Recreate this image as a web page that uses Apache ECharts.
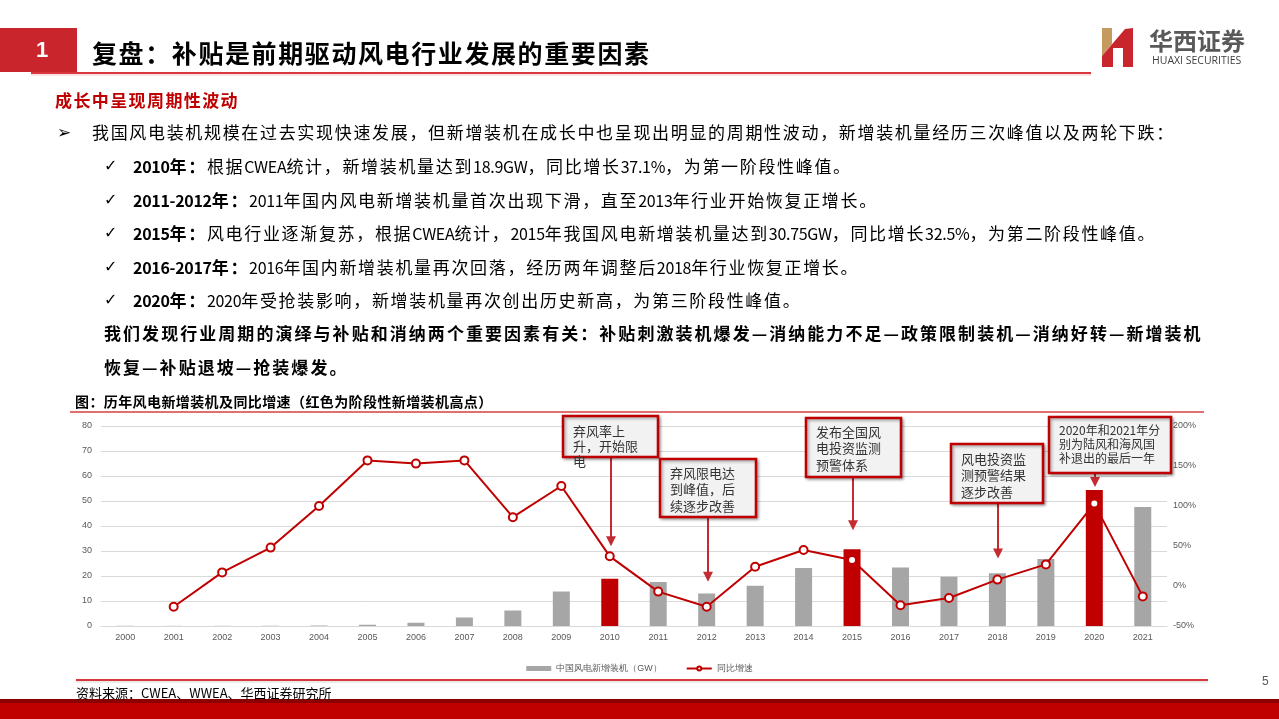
<!DOCTYPE html>
<html><head><meta charset="utf-8">
<script src="https://cdn.jsdelivr.net/npm/echarts@6/dist/echarts.min.js"></script>
<style>
html,body{margin:0;padding:0;background:#fff;}
#wrap{position:relative;width:1279px;height:719px;overflow:hidden;}
#chart{position:absolute;left:0;top:0;width:1279px;height:719px;}
.t{position:absolute;white-space:nowrap;font-family:"Noto Sans CJK SC",sans-serif;color:#000;line-height:24px;height:24px;}
.n{font-size:17px;letter-spacing:1.67px;}
.n .l{font-size:16px;letter-spacing:-0.3px;}
.ck{font-family:"DejaVu Sans",sans-serif;font-size:16px;}
</style></head><body>
<div id="wrap">
<div id="chart"></div>
<div class="t" style="left:92px;top:40px;font-size:25px;font-weight:bold;letter-spacing:1.6px;">复盘：补贴是前期驱动风电行业发展的重要因素</div>
<div class="t" style="left:55px;top:88px;font-size:17px;font-weight:bold;letter-spacing:1.4px;color:#C00000;">成长中呈现周期性波动</div>
<div class="t ck" style="left:57px;top:120px;font-size:17px;">➢</div>
<div class="t n" style="left:92px;top:120px;">我国风电装机规模在过去实现快速发展，但新增装机在成长中也呈现出明显的周期性波动，新增装机量经历三次峰值以及两轮下跌：</div>
<div class="t ck" style="left:104px;top:154px;">✓</div>
<div class="t n" style="left:133px;top:154px;"><b>2010年：</b>根据CWEA统计，新增装机量达到18.9GW，同比增长37.1%，为第一阶段性峰值。</div>
<div class="t ck" style="left:104px;top:188px;">✓</div>
<div class="t n" style="left:133px;top:188px;"><b>2011-2012年：</b>2011年国内风电新增装机量首次出现下滑，直至2013年行业开始恢复正增长。</div>
<div class="t ck" style="left:104px;top:221px;">✓</div>
<div class="t n" style="left:133px;top:221px;"><b>2015年：</b>风电行业逐渐复苏，根据CWEA统计，2015年我国风电新增装机量达到30.75GW，同比增长32.5%，为第二阶段性峰值。</div>
<div class="t ck" style="left:104px;top:255px;">✓</div>
<div class="t n" style="left:133px;top:255px;"><b>2016-2017年：</b>2016年国内新增装机量再次回落，经历两年调整后2018年行业恢复正增长。</div>
<div class="t ck" style="left:104px;top:288px;">✓</div>
<div class="t n" style="left:133px;top:288px;"><b>2020年：</b>2020年受抢装影响，新增装机量再次创出历史新高，为第三阶段性峰值。</div>
<div class="t" style="left:104px;top:321px;font-size:17px;font-weight:bold;letter-spacing:2.05px;">我们发现行业周期的演绎与补贴和消纳两个重要因素有关：补贴刺激装机爆发—消纳能力不足—政策限制装机—消纳好转—新增装机</div>
<div class="t" style="left:104px;top:355px;font-size:17px;font-weight:bold;letter-spacing:2.05px;">恢复—补贴退坡—抢装爆发。</div>
<div class="t" style="left:75px;top:389px;font-size:14px;font-weight:bold;letter-spacing:0.4px;">图：历年风电新增装机及同比增速（红色为阶段性新增装机高点）</div>
<div class="t" style="left:76px;top:681px;font-size:13px;color:#000;">资料来源：CWEA、WWEA、华西证券研究所</div>
<div class="t" style="left:1262px;top:669px;font-size:12px;color:#595959;font-family:'Liberation Sans';">5</div>
</div>
<script>
// ---- data ----
const years = ['2000','2001','2002','2003','2004','2005','2006','2007','2008','2009','2010','2011','2012','2013','2014','2015','2016','2017','2018','2019','2020','2021'];
const newCapacityGW = [0.08,0.06,0.07,0.1,0.2,0.5,1.3,3.4,6.2,13.8,18.9,17.6,13.0,16.1,23.2,30.75,23.4,19.7,21.1,26.8,54.4,47.6];
const yoyGrowthPct = [null,-26,17,48,100,157,153,157,86,125,37.1,-7,-26,24,45,32.5,-24,-15,8,27,103,-13];
const peakYears = ['2010','2015','2020'];
const seriesNames = ['中国风电新增装机（GW）','同比增速'];
const leftAxisTicks = [0,10,20,30,40,50,60,70,80];
const rightAxisTicks = [-50,0,50,100,150,200];
const annotationYears = ['2010','2012','2015','2018','2020'];
const annotationTexts = [
  ['弃风率上','升，开始限','电'],
  ['弃风限电达','到峰值，后','续逐步改善'],
  ['发布全国风','电投资监测','预警体系'],
  ['风电投资监','测预警结果','逐步改善'],
  ['2020年和2021年分','别为陆风和海风国','补退出的最后一年']
];

// narrow Latin runs in the prose lines
document.querySelectorAll('.n').forEach(el => {
  const walker = document.createTreeWalker(el, NodeFilter.SHOW_TEXT);
  const nodes = [];
  while (walker.nextNode()) nodes.push(walker.currentNode);
  nodes.forEach(tn => {
    const html = tn.nodeValue.replace(/[A-Za-z0-9.%\-]+/g, m => '<span class="l">' + m + '</span>');
    if (html !== tn.nodeValue) {
      const span = document.createElement('span');
      span.innerHTML = html;
      tn.parentNode.replaceChild(span, tn);
    }
  });
});

// ---- styles ----
const RED = '#C00000', GRAY = '#A6A6A6', AXIS_TXT = '#595959';
const chart = echarts.init(document.getElementById('chart'), null, {renderer:'canvas'});

const option = {
  animation: false,
  grid: {left: 101, right: 112, top: 426, bottom: 93},
  legend: {
    top: 659, left: 'center', itemWidth: 25, itemHeight: 5, itemGap: 24,
    textStyle: {fontSize: 9, color: AXIS_TXT},
    data: [{name: seriesNames[0], icon: 'rect'}, {name: seriesNames[1]}]
  },
  xAxis: {
    type: 'category', data: years,
    axisLine: {lineStyle: {color: '#D9D9D9'}},
    axisTick: {show: false},
    axisLabel: {fontSize: 9, color: AXIS_TXT, margin: 7, fontFamily: 'Liberation Sans'}
  },
  yAxis: [
    {type: 'value', min: leftAxisTicks[0], max: leftAxisTicks[leftAxisTicks.length-1], interval: leftAxisTicks[1]-leftAxisTicks[0],
     axisLabel: {fontSize: 9, color: AXIS_TXT, margin: 9, fontFamily: 'Liberation Sans'},
     splitLine: {lineStyle: {color: '#D9D9D9', width: 1}},
     axisLine: {show: false}, axisTick: {show: false}},
    {type: 'value', min: rightAxisTicks[0], max: rightAxisTicks[rightAxisTicks.length-1], interval: rightAxisTicks[1]-rightAxisTicks[0],
     axisLabel: {fontSize: 9, color: AXIS_TXT, margin: 6, formatter: '{value}%', fontFamily: 'Liberation Sans'},
     splitLine: {show: false}, axisLine: {show: false}, axisTick: {show: false}}
  ],
  series: [
    {name: seriesNames[0], type: 'bar', barWidth: 17, itemStyle: {color: GRAY},
     data: newCapacityGW.map((v, i) => ({value: v, itemStyle: {color: peakYears.includes(years[i]) ? RED : GRAY}}))},
    {name: seriesNames[1], type: 'line', yAxisIndex: 1, symbol: 'circle', symbolSize: 8,
     lineStyle: {color: RED, width: 2}, itemStyle: {color: '#fff', borderColor: RED, borderWidth: 2},
     data: yoyGrowthPct, z: 5}
  ]
};
chart.setOption(option);

// ---- decorations & annotations ----
const annLayout = [
  {dx:-47, top:416, w:95, h:41, target:'line', gap:10, lh:15, ty:7.5, fs:13},
  {dx:-47, top:459, w:96, h:58, target:'line', gap:25, lh:16.5, ty:5.75, fs:13},
  {dx:-46, top:418, w:95, h:59, target:'bar', gap:19, lh:16.5, ty:5.75, fs:13},
  {dx:-46, top:444, w:92, h:59, target:'line', gap:21, lh:16.5, ty:6.75, fs:13},
  {dx:-45, top:417, w:122, h:56, target:'bar', gap:3, lh:14, ty:6, fs:12}
];
const ARROW = '#C42B30';
const graphics = [
  {type:'rect', shape:{x:0,y:28,width:77,height:44}, style:{fill:'#C8262C'}},
  {type:'text', style:{text:'1', x:42, y:51, font:'bold 22px "Liberation Sans"', fill:'#fff', align:'center', verticalAlign:'middle'}},
  {type:'line', shape:{x1:31,y1:73,x2:1091,y2:73}, style:{stroke:'#D9363E', lineWidth:2}},
  {type:'line', shape:{x1:31,y1:75,x2:1091,y2:75}, style:{stroke:'#F3C6C6', lineWidth:1}},
  // logo
  {type:'polygon', shape:{points:[[1102,28],[1112,28],[1112,44],[1102,56]]}, style:{fill:'#C49A5E'}},
  {type:'polygon', shape:{points:[[1102,67],[1102,56],[1125,29],[1133,28],[1133,67],[1123,67],[1123,48],[1113,48],[1113,67]]}, style:{fill:'#C8262C'}},
  {type:'text', style:{text:'华西证券', x:1149, y:41, font:'bold 24px "Noto Sans CJK SC"', fill:'#595959', verticalAlign:'middle'}},
  {type:'text', style:{text:'HUAXI SECURITIES', x:1152, y:61, font:'10.5px "Open Sans"', fill:'#404040', verticalAlign:'middle'}},
  // caption & footer lines
  {type:'line', shape:{x1:70,y1:412,x2:1204,y2:412}, style:{stroke:'#E07070', lineWidth:2}},
  {type:'line', shape:{x1:76,y1:680,x2:1208,y2:680}, style:{stroke:'#D9363E', lineWidth:2}},
  {type:'line', shape:{x1:76,y1:682,x2:1208,y2:682}, style:{stroke:'#EBEBEB', lineWidth:2}},
  {type:'rect', shape:{x:0,y:699,width:1279,height:5}, style:{fill:'#8B0000'}},
  {type:'rect', shape:{x:0,y:703,width:1279,height:16}, style:{fill:'#C00000'}}
];
annotationYears.forEach((yr, k) => {
  const L = annLayout[k];
  const i = years.indexOf(yr);
  const cx = Math.round(chart.convertToPixel({seriesIndex:0}, [i, 0])[0]);
  const anchorY = L.target === 'bar'
    ? chart.convertToPixel({seriesIndex:0}, [i, newCapacityGW[i]])[1]
    : chart.convertToPixel({seriesIndex:1}, [i, yoyGrowthPct[i]])[1];
  const tip = anchorY - L.gap;
  const left = cx + L.dx;
  const bottom = L.top + L.h;
  const ax = cx + 1;
  graphics.push({type:'line', z:100, shape:{x1:ax, y1:bottom, x2:ax, y2:tip-9}, style:{stroke:ARROW, lineWidth:2}});
  graphics.push({type:'polygon', z:100, shape:{points:[[ax-5,tip-10],[ax+5,tip-10],[ax,tip]]}, style:{fill:ARROW}});
  graphics.push({type:'rect', z:101, shape:{x:left, y:L.top, width:L.w, height:L.h},
    style:{fill:'#F2F2F2', stroke:RED, lineWidth:2.5, shadowBlur:3, shadowOffsetX:1.5, shadowOffsetY:1.5, shadowColor:'rgba(0,0,0,0.35)'}});
  graphics.push({type:'text', z:102, style:{text: annotationTexts[k].join('\n'), x:left+10, y:L.top+L.ty,
    font: L.fs + 'px "Noto Sans CJK SC"', fill:'#333', lineHeight:L.lh, verticalAlign:'top', align:'left'}});
});
chart.setOption({graphic: graphics});
</script>
</body></html>
